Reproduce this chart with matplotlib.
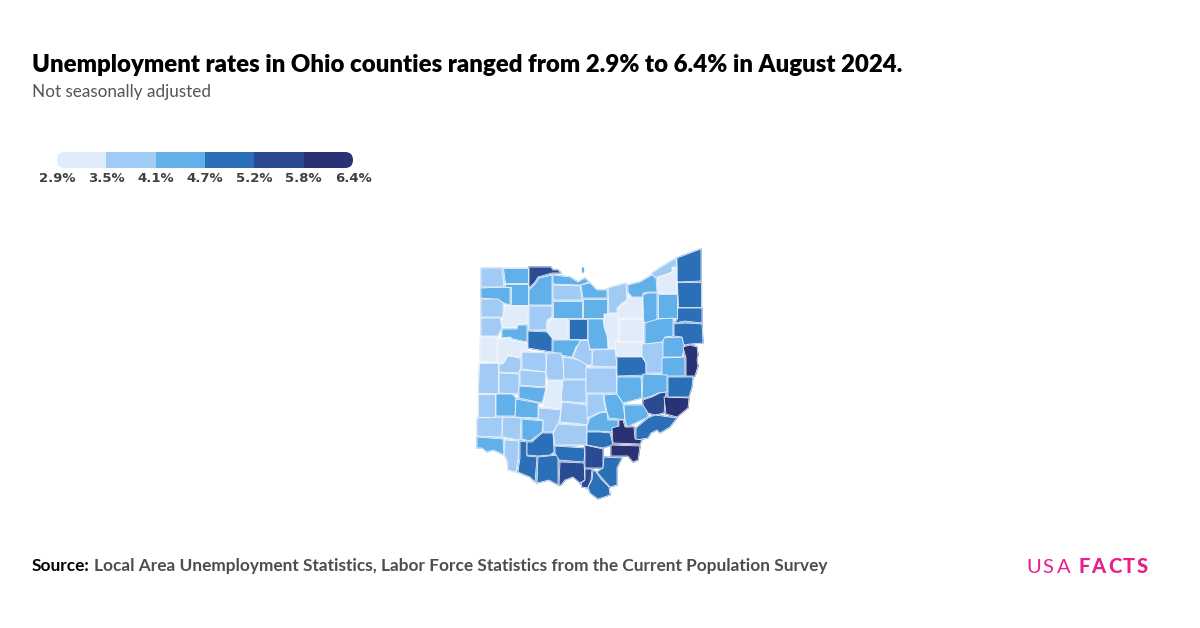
"""
Ohio county unemployment map, August 2024
"""

import matplotlib
matplotlib.use("Agg")
import matplotlib.pyplot as plt
from matplotlib.collections import PolyCollection
from matplotlib.colors import BoundaryNorm, ListedColormap
from matplotlib.patches import Ellipse, FancyBboxPatch

bin_edges = [2.9, 3.5, 4.1, 4.7, 5.2, 5.8, 6.4]
bin_labels = ["2.9%", "3.5%", "4.1%", "4.7%", "5.2%", "5.8%", "6.4%"]
bin_colors = ["#E1ECFB", "#A1CBF5", "#62B0EA", "#2A6FB7", "#2A4A94", "#293275"]

county_names = [
    "Williams", "Fulton", "Lucas", "Defiance", "Henry", "Wood", "Ottawa", "Sandusky",
    "Seneca", "Erie", "Huron", "Lorain", "Ashland", "Wayne", "Wyandot", "Richland",
    "Crawford", "Marion", "Hancock", "Hardin", "Hancock N", "Putnam", "Paulding",
    "Van Wert", "Allen", "Mercer", "Auglaize", "Logan", "Union", "Delaware", "Morrow",
    "Knox", "Holmes", "Coshocton", "Tuscarawas", "Harrison", "Carroll", "Jefferson",
    "Columbiana", "Mahoning", "Trumbull", "Ashtabula", "Lake", "Geauga", "Cuyahoga",
    "Medina", "Portage", "Stark", "Darke", "Miami", "Shelby", "Champaign", "Clark",
    "Madison", "Franklin", "Preble", "Montgomery", "Greene", "Fayette", "Pickaway",
    "Butler", "Warren", "Clinton", "Hamilton", "Clermont", "Brown", "Highland", "Adams",
    "Pike", "Ross", "Scioto", "Jackson", "Lawrence W", "Gallia", "Lawrence", "Vinton",
    "Hocking", "Fairfield", "Licking", "Perry", "Muskingum", "Morgan", "Guernsey",
    "Noble", "Monroe", "Washington", "Athens", "Meigs", "Belmont",
]
county_rates = [
    3.8, 4.4, 5.5, 4.4, 4.4, 4.4, 4.4, 3.8,
    4.4, 4.4, 4.4, 3.8, 3.2, 3.2, 3.2, 4.4,
    5.0, 4.4, 3.2, 5.0, 3.8, 3.2, 3.8,
    3.8, 4.4, 3.2, 3.2, 3.8, 3.8, 3.8, 3.8,
    3.8, 3.2, 5.0, 3.8, 4.4, 4.4, 6.1,
    5.0, 5.0, 5.0, 5.0, 3.8, 3.2, 4.4,
    4.4, 4.4, 4.4, 3.8, 3.8, 3.8, 3.8, 4.4,
    3.2, 3.8, 3.8, 4.4, 4.4, 3.8, 3.8,
    3.8, 3.8, 4.4, 4.4, 3.8, 5.0, 5.0, 5.0,
    5.0, 3.8, 5.5, 5.5, 5.5, 5.0, 5.0, 5.0,
    4.4, 3.8, 3.8, 4.4, 4.4, 4.4, 4.4,
    5.5, 6.1, 5.0, 6.1, 6.1, 5.0,
]
county_outlines = [
    [(481, 268), (502, 268), (504, 287), (481, 287)],
    [(503, 268), (528, 268), (528, 283), (505, 283)],
    [(529, 267), (551, 267), (553, 270), (558, 270), (561, 273), (552, 273), (538, 277), (535, 282), (529, 288)],
    [(481, 288), (510, 287), (510, 305), (498, 301), (493, 299), (481, 298)],
    [(505, 284), (528, 284), (528, 305), (511, 305), (511, 287), (505, 287)],
    [(529, 290), (535, 284), (539, 278), (552, 275), (552, 305), (529, 305)],
    [(553, 275), (570, 277), (578, 282), (585, 278), (589, 282), (580, 285), (553, 284)],
    [(553, 285), (580, 286), (582, 300), (553, 300)],
    [(553, 301), (582, 301), (582, 318), (553, 318)],
    [(581, 285), (590, 283), (597, 290), (605, 290), (607, 289), (607, 298), (583, 298)],
    [(583, 299), (607, 299), (607, 318), (583, 318)],
    [(608, 288), (626, 283), (627, 300), (622, 303), (617, 308), (617, 313), (609, 313)],
    [(618, 310), (622, 305), (627, 303), (627, 298), (643, 298), (643, 318), (618, 318)],
    [(619, 319), (643, 319), (643, 341), (619, 341)],
    [(547, 325), (552, 319), (568, 319), (568, 339), (552, 339), (547, 335)],
    [(588, 319), (603, 319), (604, 325), (607, 335), (608, 349), (590, 349), (588, 340)],
    [(569, 319), (587, 319), (587, 339), (569, 339)],
    [(553, 340), (580, 340), (580, 343), (576, 347), (572, 357), (560, 355), (553, 352)],
    [(505, 306), (528, 306), (528, 323), (517, 325), (515, 327), (503, 328), (501, 323), (503, 318)],
    [(528, 331), (547, 332), (552, 338), (552, 352), (528, 348)],
    [(529, 306), (552, 306), (552, 317), (547, 320), (546, 330), (529, 330)],
    [(604, 314), (618, 314), (618, 338), (614, 349), (609, 349), (608, 338), (604, 327)],
    [(481, 299), (498, 299), (503, 303), (503, 317), (481, 317)],
    [(481, 318), (500, 318), (502, 327), (498, 336), (481, 336)],
    [(502, 329), (517, 329), (518, 325), (527, 325), (527, 342), (513, 339), (510, 337), (502, 338)],
    [(480, 337), (497, 337), (497, 362), (480, 361)],
    [(498, 339), (509, 338), (513, 341), (527, 343), (527, 351), (522, 351), (520, 357), (508, 355), (503, 363), (498, 363)],
    [(522, 352), (546, 353), (546, 372), (522, 369)],
    [(547, 353), (561, 353), (563, 360), (564, 380), (548, 380), (546, 372)],
    [(563, 357), (586, 361), (587, 379), (564, 379)],
    [(580, 341), (588, 340), (590, 350), (592, 350), (592, 365), (587, 365), (573, 357), (577, 347)],
    [(593, 350), (615, 349), (617, 367), (592, 366)],
    [(614, 342), (643, 342), (643, 356), (617, 356)],
    [(617, 357), (642, 357), (646, 363), (646, 375), (617, 376)],
    [(642, 344), (662, 342), (664, 348), (664, 373), (646, 373), (646, 363), (642, 356)],
    [(662, 358), (685, 357), (685, 376), (662, 376)],
    [(663, 338), (682, 337), (685, 347), (682, 357), (663, 357)],
    [(683, 347), (690, 345), (697, 347), (698, 355), (697, 360), (698, 366), (695, 376), (686, 376), (686, 358)],
    [(674, 324), (685, 323), (702, 324), (703, 343), (690, 344), (684, 345), (682, 337), (674, 336)],
    [(677, 308), (702, 308), (702, 323), (685, 321), (674, 323), (677, 320)],
    [(677, 282), (701, 282), (701, 307), (678, 307)],
    [(677, 258), (701, 249), (701, 281), (677, 282)],
    [(652, 273), (661, 267), (676, 258), (677, 267), (672, 267), (672, 272), (658, 277), (653, 277)],
    [(658, 278), (672, 273), (673, 268), (677, 268), (677, 293), (658, 293)],
    [(628, 285), (640, 282), (652, 275), (656, 278), (657, 292), (648, 292), (643, 293), (643, 297), (632, 297), (628, 292)],
    [(643, 295), (648, 293), (657, 293), (657, 318), (655, 323), (644, 323), (643, 303)],
    [(658, 294), (677, 294), (677, 318), (658, 318)],
    [(645, 323), (658, 319), (673, 318), (673, 336), (665, 337), (662, 342), (645, 344)],
    [(479, 363), (498, 363), (498, 393), (478, 393)],
    [(499, 373), (519, 374), (519, 394), (499, 393)],
    [(499, 364), (503, 364), (508, 356), (520, 358), (521, 368), (519, 373), (499, 372)],
    [(520, 370), (546, 372), (545, 387), (520, 385)],
    [(519, 386), (546, 388), (542, 403), (519, 398)],
    [(548, 381), (563, 381), (561, 409), (543, 407)],
    [(563, 380), (586, 380), (586, 403), (561, 401)],
    [(478, 394), (495, 394), (495, 417), (478, 417)],
    [(496, 394), (512, 394), (516, 398), (515, 416), (496, 416)],
    [(516, 399), (538, 403), (538, 418), (515, 417)],
    [(539, 408), (561, 410), (559, 422), (553, 432), (543, 432), (543, 420), (538, 419)],
    [(562, 402), (587, 405), (588, 425), (573, 423), (560, 422)],
    [(477, 418), (502, 417), (502, 437), (477, 436)],
    [(503, 417), (521, 418), (520, 440), (502, 437)],
    [(522, 419), (543, 421), (542, 432), (530, 441), (522, 439)],
    [(477, 437), (503, 439), (504, 455), (500, 453), (493, 450), (487, 452), (482, 448), (477, 448)],
    [(505, 440), (519, 441), (518, 460), (516, 472), (508, 470), (507, 460), (504, 455)],
    [(520, 441), (527, 442), (527, 456), (537, 457), (535, 482), (530, 477), (518, 472), (520, 458)],
    [(527, 442), (532, 442), (542, 433), (553, 433), (554, 452), (550, 455), (538, 456), (527, 455)],
    [(538, 457), (558, 455), (558, 485), (549, 480), (537, 483)],
    [(555, 446), (585, 448), (584, 462), (559, 460), (555, 453)],
    [(558, 424), (587, 426), (587, 445), (555, 445), (553, 433)],
    [(560, 462), (584, 463), (585, 480), (580, 483), (573, 477), (565, 480), (561, 485), (559, 485)],
    [(585, 445), (603, 449), (603, 468), (585, 468)],
    [(585, 469), (592, 469), (591, 480), (588, 488), (582, 487), (581, 483), (585, 480)],
    [(604, 457), (622, 458), (617, 468), (617, 485), (610, 487), (602, 478), (597, 472), (603, 468)],
    [(593, 470), (596, 472), (601, 479), (609, 487), (610, 495), (598, 499), (590, 493), (588, 487), (592, 480)],
    [(587, 432), (600, 432), (610, 433), (613, 445), (603, 448), (587, 445)],
    [(590, 418), (600, 413), (607, 412), (608, 420), (618, 420), (618, 427), (611, 432), (599, 431), (587, 431), (587, 426)],
    [(587, 394), (603, 394), (604, 402), (606, 412), (600, 412), (587, 418)],
    [(586, 368), (616, 368), (617, 393), (586, 393)],
    [(604, 395), (617, 394), (623, 403), (625, 420), (618, 419), (609, 418), (607, 412), (605, 402)],
    [(617, 377), (641, 377), (642, 398), (623, 403), (617, 394)],
    [(624, 405), (645, 405), (648, 413), (648, 417), (627, 427), (625, 420)],
    [(643, 374), (667, 375), (667, 392), (658, 393), (652, 396), (645, 398), (642, 398)],
    [(643, 400), (652, 397), (660, 393), (666, 392), (664, 413), (655, 415), (648, 413), (643, 405)],
    [(664, 397), (689, 398), (688, 408), (677, 417), (666, 414)],
    [(636, 428), (648, 418), (655, 415), (677, 418), (670, 427), (660, 433), (657, 430), (651, 433), (648, 438), (636, 440)],
    [(612, 428), (619, 426), (619, 420), (623, 420), (625, 427), (634, 427), (635, 439), (642, 440), (640, 444), (613, 443)],
    [(611, 445), (640, 446), (638, 460), (633, 462), (628, 456), (611, 456)],
    [(668, 377), (693, 377), (692, 387), (689, 397), (668, 397)],
]

title_text = "Unemployment rates in Ohio counties ranged from 2.9% to 6.4% in August 2024."
subtitle_text = "Not seasonally adjusted"
source_text = "Local Area Unemployment Statistics, Labor Force Statistics from the Current Population Survey"

DARK_TEXT = "#000000"
GREY_TEXT = "#555555"
PINK = "#E91E8C"


def draw_map(ax):
    cmap = ListedColormap(bin_colors)
    norm = BoundaryNorm(bin_edges, cmap.N)

    # same colour edge first closes the small gaps left by the tracing
    underlay = PolyCollection(county_outlines, array=county_rates, cmap=cmap, norm=norm,
                              edgecolors="face", linewidths=0.9)
    ax.add_collection(underlay)
    counties = PolyCollection(county_outlines, array=county_rates, cmap=cmap, norm=norm,
                              edgecolors="#F6F8FC", linewidths=0.55)
    ax.add_collection(counties)

    # Kelleys Island
    ax.add_patch(Ellipse((583, 270), 2.5, 6, color=bin_colors[2], lw=0))


def draw_legend(ax):
    left, right, top, height = 57, 353, 152, 16
    step = (right - left) / len(bin_colors)

    bars = ax.bar([left + i * step for i in range(len(bin_colors))], height, width=step,
                  bottom=top, align="edge", color=bin_colors, linewidth=0)
    outline = FancyBboxPatch((left + 8, top + 8), right - left - 16, 0, boxstyle="round,pad=8,rounding_size=8",
                             transform=ax.transData, fc="none", ec="none")
    ax.add_patch(outline)
    for bar in bars:
        bar.set_clip_path(outline)

    for i, label in enumerate(bin_labels):
        ax.text(left + i * step, 179, label, ha="center", va="center", fontsize=9.5,
                fontweight="bold", color="#3F3F3F", family="DejaVu Sans")


def draw_logo(ax):
    for x, letter in zip([1026, 1042, 1057], "USA"):
        ax.text(x, 573, letter, ha="left", va="baseline", fontsize=14.5, color=PINK, family="Lato")
    for x, letter in zip([1078, 1091, 1108, 1123, 1137], "FACTS"):
        ax.text(x, 573, letter, ha="left", va="baseline", fontsize=14.5, color=PINK, family="Lato",
                fontweight="black")


def main():

    fig = plt.figure(figsize=(12, 6.28), dpi=100)
    ax = fig.add_axes([0, 0, 1, 1])
    ax.set_xlim(0, 1200)
    ax.set_ylim(628, 0)
    ax.axis("off")

    draw_map(ax)
    draw_legend(ax)

    ax.text(32, 65, title_text, ha="left", va="center", fontsize=17.27, fontweight="heavy",
            color=DARK_TEXT, family="Lato")
    ax.text(32, 92, subtitle_text, ha="left", va="center", fontsize=12.3, color=GREY_TEXT, family="Lato")
    ax.text(32, 566, "Source:", ha="left", va="center", fontsize=12.4, fontweight="bold",
            color=DARK_TEXT, family="Lato")
    ax.text(94, 566, source_text, ha="left", va="center", fontsize=12.4, fontweight="bold",
            color="#4D4D4D", family="Lato")

    draw_logo(ax)

    fig.savefig("out.png", dpi=100)


if __name__ == "__main__":

    main()
